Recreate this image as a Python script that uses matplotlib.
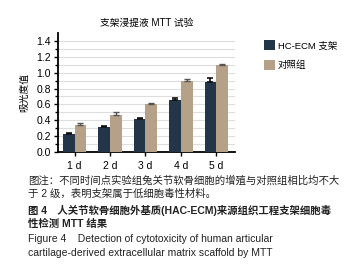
import numpy as np
import matplotlib.pyplot as plt

plt.rcParams['font.family'] = ['Liberation Sans', 'Noto Sans CJK SC', 'DejaVu Sans']

days = ['1 d', '2 d', '3 d', '4 d', '5 d']
hc_ecm = [0.23, 0.31, 0.41, 0.65, 0.88]
hc_ecm_err = [0.01, 0.015, 0.02, 0.025, 0.05]
control = [0.34, 0.47, 0.61, 0.90, 1.10]
control_err = [0.025, 0.035, 0.01, 0.025, 0.01]
yticks = [0.0, 0.2, 0.4, 0.6, 0.8, 1.0, 1.2, 1.4]

dark = '#233549'
tan = '#b5a088'

fig = plt.figure(figsize=(3.56, 2.73), dpi=100)
ax = fig.add_axes([58/356, 1 - 152/273, 177/356, 119/273])

x = np.arange(len(days))
w = 0.33
ax.bar(x - w/2, hc_ecm, w, color=dark, label='HC-ECM 支架', zorder=3,
       yerr=[np.zeros(5), hc_ecm_err], error_kw=dict(ecolor='#111111', capsize=2.5, elinewidth=1.2, capthick=1.2))
ax.bar(x + w/2, control, w, color=tan, label='对照组', zorder=3,
       yerr=[np.zeros(5), control_err], error_kw=dict(ecolor='#555555', capsize=2.5, elinewidth=1, capthick=1))

ax.set_xlim(-0.47, 4.53)
ax.set_ylim(0, 1.5)
ax.set_yticks(yticks)
ax.set_yticklabels(['%.1f' % v for v in yticks], fontsize=7.5)
ax.set_yticks(np.arange(0.1, 1.5, 0.2), minor=True)
ax.set_xticks(x)
ax.set_xticklabels(days, fontsize=7.5)
ax.tick_params(axis='x', length=3, width=1)
ax.tick_params(axis='y', which='major', length=3, width=1, pad=2)
ax.tick_params(axis='y', which='minor', length=2, width=1)
ax.grid(axis='y', which='both', color='#dddddd', linewidth=0.8, zorder=0)
for s in ['top', 'right']:
    ax.spines[s].set_visible(False)
for s in ['left', 'bottom']:
    ax.spines[s].set_linewidth(1.3)

ax.set_title('支架浸提液 MTT 试验', fontsize=7, pad=5)
ax.set_ylabel('吸光度值', fontsize=7, labelpad=5)

fig.legend(loc='upper left', bbox_to_anchor=(255/356, 1 - 32/273), frameon=False,
           fontsize=6.8, handlelength=1.2, handleheight=1.2, labelspacing=1.0, handletextpad=0.3)

cap = [
    ('图注：不同时间点实验组兔关节软骨细胞的增殖与对照组相比均不大', 'normal', 180),
    ('于 2 级，表明支架属于低细胞毒性材料。', 'normal', 194),
    ('图 4　人关节软骨细胞外基质(HAC-ECM)来源组织工程支架细胞毒', 'bold', 210),
    ('性检测 MTT 结果', 'bold', 224),
    ('Figure 4    Detection of cytotoxicity of human articular', 'normal', 239),
    ('cartilage-derived extracellular matrix scaffold by MTT', 'normal', 253),
]
for txt, wt, yp in cap:
    fig.text(28/356, 1 - yp/273, txt, fontsize=7.5, fontweight=wt, va='center', ha='left', color='#222222')

plt.savefig('out.png', dpi=100)
